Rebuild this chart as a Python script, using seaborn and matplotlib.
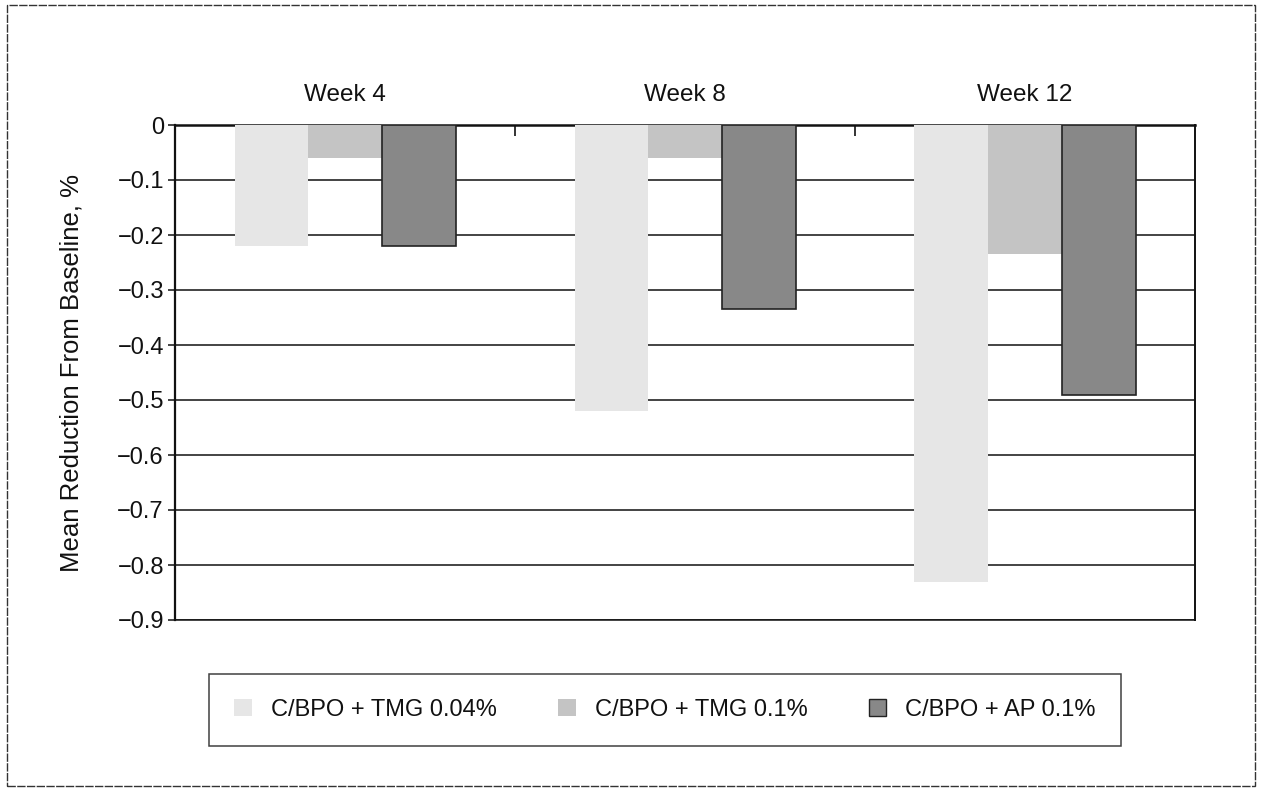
import matplotlib
matplotlib.use("Agg")
import matplotlib.pyplot as plt
import matplotlib.patches as mpatches
import seaborn as sns
import pandas as pd

weeks = ["Week 4", "Week 8", "Week 12"]
series = ["C/BPO + TMG 0.04%", "C/BPO + TMG 0.1%", "C/BPO + AP 0.1%"]
tmg004 = [-0.22, -0.52, -0.83]
tmg01 = [-0.06, -0.06, -0.235]
ap01 = [-0.22, -0.335, -0.49]
yticks = [0, -0.1, -0.2, -0.3, -0.4, -0.5, -0.6, -0.7, -0.8, -0.9]
ytick_labels = ["0", "\u22120.1", "\u22120.2", "\u22120.3", "\u22120.4", "\u22120.5",
                "\u22120.6", "\u22120.7", "\u22120.8", "\u22120.9"]

rows = []
for s, vals in zip(series, [tmg004, tmg01, ap01]):
    for w, v in zip(weeks, vals):
        rows.append({"week": w, "series": s, "value": v})
df = pd.DataFrame(rows)

sns.set_theme(style="white")
plt.rcParams["font.family"] = ["Liberation Sans", "DejaVu Sans"]
plt.rcParams["text.color"] = "#111111"
plt.rcParams["xtick.color"] = "#111111"
plt.rcParams["ytick.color"] = "#111111"
plt.rcParams["axes.labelcolor"] = "#111111"

fig = plt.figure(figsize=(12.64, 7.92), dpi=100)
ax = fig.add_axes([175/1264, 1-620/792, (1195-175)/1264, (620-125)/792])

colors = ["#e6e6e6", "#c4c4c4", "#888888"]
sns.barplot(data=df, x="week", y="value", hue="series", order=weeks,
            hue_order=series, palette=colors, width=0.65, saturation=1,
            ax=ax, zorder=3, legend=False)

edges = [(0, 0, 0, 0), (0, 0, 0, 0), "#222222"]
for cont, ec in zip(ax.containers, edges):
    for bar in cont:
        bar.set_edgecolor(ec)
        bar.set_linewidth(1.2)

ax.set_ylim(-0.9, 0)
ax.set_xlim(-0.5, 2.5)
ax.set_yticks(yticks)
ax.set_yticklabels(ytick_labels, fontsize=17)
for y in yticks:
    ax.axhline(y, color="#111111", lw=1.1, zorder=1)

ax.xaxis.tick_top()
ax.set_xticks([0, 1, 2])
ax.set_xticklabels(weeks, fontsize=17.5)
ax.tick_params(axis="x", which="major", length=0, pad=14)
ax.set_xticks([0.5, 1.5], minor=True)
ax.tick_params(axis="x", which="minor", direction="in", length=8, width=1.2,
               color="#111111", top=True, bottom=False)
ax.tick_params(axis="y", which="major", length=5, width=1.1, color="#111111",
               left=True, pad=3)
ax.set_xlabel("")
ax.set_ylabel("Mean Reduction From Baseline, %", fontsize=18.5, labelpad=24)

for side in ["left", "right", "top", "bottom"]:
    ax.spines[side].set_visible(True)
    ax.spines[side].set_color("#111111")
ax.spines["left"].set_linewidth(1.6)
ax.spines["top"].set_linewidth(1.8)
ax.spines["right"].set_linewidth(1.4)
ax.spines["bottom"].set_linewidth(1.1)

handles = [mpatches.Patch(facecolor=c, edgecolor=e, lw=1) for c, e in zip(colors, edges)]
leg = fig.legend(handles, series, loc="center", bbox_to_anchor=(665/1264, 1-710/792),
                 ncol=3, frameon=True, fancybox=False, fontsize=17,
                 handlelength=0.75, handleheight=0.75, handletextpad=0.8,
                 columnspacing=2.6, borderpad=1.05, borderaxespad=0)
leg.get_frame().set_edgecolor("#111111")
leg.get_frame().set_linewidth(1.1)

border = mpatches.Rectangle((7/1264, 1-786/792), (1255-7)/1264, (786-5)/792,
                            transform=fig.transFigure, fill=False,
                            edgecolor="#333333", lw=1.0, linestyle=(0, (6, 1)))
fig.add_artist(border)

fig.savefig("out.png", dpi=100, facecolor="white")
